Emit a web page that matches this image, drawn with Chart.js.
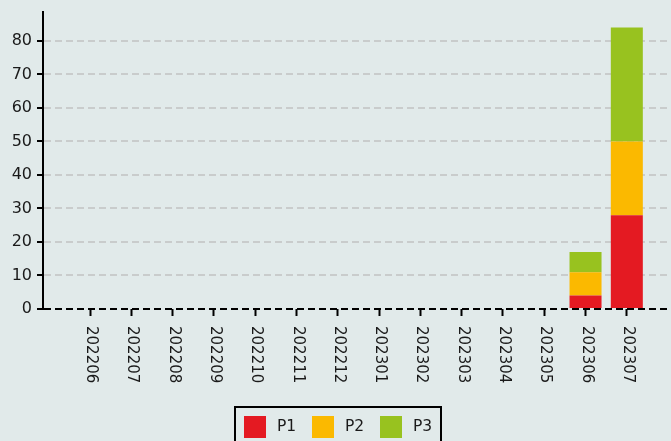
<!DOCTYPE html>
<html>
<head>
<meta charset="utf-8">
<script src="https://cdn.jsdelivr.net/npm/chart.js@4"></script>
<style>
  body { margin: 0; background: #e1eaea; }
  canvas { display: block; }
</style>
</head>
<body>
<canvas id="myChart" width="671" height="441"></canvas>
<script>
const months = ["202206", "202207", "202208", "202209", "202210", "202211", "202212",
                "202301", "202302", "202303", "202304", "202305", "202306", "202307"];
const p1 = [0, 0, 0, 0, 0, 0, 0, 0, 0, 0, 0, 0, 4, 28];
const p2 = [0, 0, 0, 0, 0, 0, 0, 0, 0, 0, 0, 0, 7, 22];
const p3 = [0, 0, 0, 0, 0, 0, 0, 0, 0, 0, 0, 0, 6, 34];
const yTicks = [0, 10, 20, 30, 40, 50, 60, 70, 80];

const font = '"DejaVu Sans", sans-serif';
const ink = "#1a1a1a";

function points(arr) {
    return arr.map(function (v, i) { return { x: i, y: v }; });
}

// x labels read top to bottom, chart.js only rotates the other way
const xLabels = {
    id: "xLabels",
    afterDraw(chart) {
        const ctx = chart.ctx;
        const xs = chart.scales.x;
        ctx.save();
        ctx.font = "15px " + font;
        ctx.fillStyle = ink;
        ctx.textAlign = "left";
        ctx.textBaseline = "middle";
        xs.ticks.forEach(function (t) {
            const x = xs.getPixelForValue(t.value);
            ctx.save();
            ctx.translate(x + 1, xs.top + 17);
            ctx.rotate(Math.PI / 2);
            ctx.fillText(months[t.value], 0, 0);
            ctx.restore();
        });
        ctx.restore();
    }
};

// boxed legend under the labels
const boxLegend = {
    id: "boxLegend",
    afterDraw(chart) {
        const ctx = chart.ctx;
        const starts = [244, 312, 380];
        ctx.save();
        ctx.lineWidth = 2;
        ctx.strokeStyle = "#000";
        ctx.strokeRect(235, 407, 206, 44);
        ctx.font = "15.5px " + font;
        ctx.textBaseline = "middle";
        chart.data.datasets.forEach(function (ds, i) {
            ctx.fillStyle = ds.backgroundColor;
            ctx.fillRect(starts[i], 416, 22, 22);
            ctx.fillStyle = ink;
            ctx.fillText(ds.label, starts[i] + 33, 427);
        });
        ctx.restore();
    }
};

new Chart("myChart", {
    type: "bar",
    data: {
        datasets: [
            { label: "P1", data: points(p1), backgroundColor: "#e41a22" },
            { label: "P2", data: points(p2), backgroundColor: "#fbb900" },
            { label: "P3", data: points(p3), backgroundColor: "#98c21f" }
        ]
    },
    options: {
        responsive: false,
        animation: false,
        layout: { padding: { top: 12, right: 0, left: 0, bottom: 0 } },
        datasets: { bar: { categoryPercentage: 1, barPercentage: 0.775 } },
        plugins: { legend: { display: false }, tooltip: { enabled: false } },
        scales: {
            x: {
                type: "linear",
                stacked: true,
                offset: false,
                min: -1.14,
                max: 14.07,
                ticks: { display: false, stepSize: 1, includeBounds: false },
                afterBuildTicks: function (scale) {
                    scale.ticks = months.map(function (m, i) { return { value: i }; });
                },
                afterFit: function (scale) { scale.height = 132; },
                border: { display: false },
                grid: {
                    display: true,
                    offset: false,
                    drawOnChartArea: false,
                    drawTicks: true,
                    tickLength: 7,
                    tickWidth: 2,
                    tickColor: "#000"
                }
            },
            y: {
                stacked: true,
                min: 0,
                max: 88.6,
                afterBuildTicks: function (scale) {
                    scale.ticks = yTicks.map(function (v) { return { value: v }; });
                },
                afterFit: function (scale) {
                    scale.width = 43;
                    scale.paddingTop = 0;
                    scale.paddingBottom = 0;
                },
                ticks: {
                    padding: 5,
                    color: ink,
                    font: { family: font, size: 16 }
                },
                border: { display: true, color: "#000", width: 2, dash: [7, 4] },
                grid: {
                    color: function (c) { return c.tick && c.tick.value === 0 ? "#000" : "#c9cccc"; },
                    lineWidth: 2,
                    tickLength: 6,
                    tickWidth: 2,
                    tickColor: "#000"
                }
            }
        }
    },
    plugins: [xLabels, boxLegend]
});
</script>
</body>
</html>
